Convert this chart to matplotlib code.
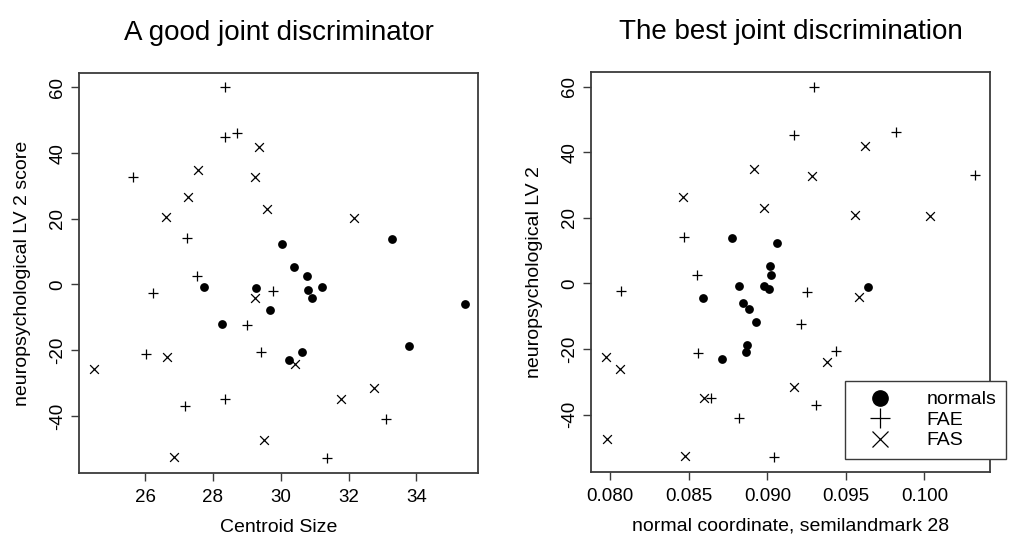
#!/usr/bin/env python3
# -*- coding: utf-8 -*-
import matplotlib
matplotlib.use("Agg")
import matplotlib.pyplot as plt
from matplotlib.lines import Line2D

plt.rcParams['font.family'] = ['Liberation Sans', 'DejaVu Sans']

# LV 2 scores, same subjects in both panels
normals_lv2 = [12.3, 13.9, 5.4, 2.6, -0.7, -1.8, -4.2, -7.7, -20.6, -23.0,
               -0.8, -1.1, -11.9, -18.7, -5.9]
normals_cs = [30.04, 33.28, 30.39, 30.79, 31.23, 30.80, 30.92, 29.67, 30.64, 30.25,
              27.73, 29.27, 28.27, 33.78, 35.43]

fae_lv2 = [60.0, 45.0, 46.0, 32.8, 14.2, 2.7, -1.9, -20.6, -2.7, -12.2,
           -21.2, -37.0, -34.9, -40.9, -52.9]
fae_cs = [28.36, 28.36, 28.70, 25.63, 27.25, 27.53, 29.78, 29.42, 26.22, 29.00,
          26.02, 27.19, 28.37, 33.11, 31.37]

fas_lv2 = [41.8, 34.9, 32.6, 26.5, 20.6, 23.0, 20.3, -24.2, -4.1, -22.2,
           -25.8, -52.4, -34.9, -31.5, -47.2]
fas_cs = [29.37, 27.55, 29.24, 27.26, 26.63, 29.59, 32.17, 30.42, 29.24, 26.66,
          24.50, 26.85, 31.79, 32.75, 29.52]

# right panel: semilandmark 28 normal coordinate
normals_lv2_r = [13.8, 12.3, 5.4, 2.5, -0.8, -0.8, -1.7, -4.3, -5.9, -7.8,
                 -11.8, -18.7, -20.8, -23.1, -1.0]
normals_sl = [0.08773, 0.09060, 0.09019, 0.09026, 0.08820, 0.08979, 0.09011, 0.08592,
              0.08845, 0.08881, 0.08928, 0.08873, 0.08862, 0.08710, 0.09640]

fae_lv2_r = [60.0, 45.2, 46.2, 33.1, 14.2, 2.6, -2.2, -2.5, -12.3, -20.6,
             -21.2, -35.0, -41.0, -52.9, -37.0]
fae_sl = [0.09299, 0.09168, 0.09822, 0.10323, 0.08468, 0.08552, 0.08068, 0.09255,
          0.09213, 0.09438, 0.08559, 0.08639, 0.08822, 0.09043, 0.09310]

fas_lv2_r = [35.0, 26.5, 22.9, 41.9, 32.8, 21.0, 20.6, -4.0, -24.0, -22.3,
             -26.1, -35.0, -47.5, -52.6, -31.6]
fas_sl = [0.08915, 0.08461, 0.08977, 0.09622, 0.09283, 0.09557, 0.10034, 0.09584,
          0.09380, 0.07975, 0.08064, 0.08597, 0.07977, 0.08478, 0.09170]

left_xticks = [26, 28, 30, 32, 34]
right_xticks = [0.080, 0.085, 0.090, 0.095, 0.100]
yticks = [-40, -20, 0, 20, 40, 60]

W, H = 1012, 544


def style_axes(ax, title, xlabel, ylabel, xticks, xfmt):
    for sp in ax.spines.values():
        sp.set_color('#3a3a3a')
        sp.set_linewidth(1.3)
    ax.set_xticks(xticks)
    ax.set_xticklabels([xfmt.format(t) for t in xticks])
    ax.set_yticks(yticks)
    ax.set_yticklabels([str(t) for t in yticks], rotation=90, va='center')
    ax.tick_params(direction='out', length=6, width=1, color='#3a3a3a',
                   labelsize=13.5, pad=6)
    ax.tick_params(axis='y', pad=3)
    ax.set_title(title, fontsize=20, pad=24)
    ax.set_xlabel(xlabel, fontsize=14, labelpad=9)
    ax.set_ylabel(ylabel, fontsize=14, labelpad=13)


def draw_points(ax, xn, yn, xe, ye, xs, ys):
    ax.scatter(xn, yn, s=40, marker='o', color='black', linewidths=0, zorder=3)
    ax.scatter(xe, ye, s=50, marker='+', color='black', linewidths=0.9, zorder=3)
    ax.scatter(xs, ys, s=40, marker='x', color='black', linewidths=0.9, zorder=3)


fig = plt.figure(figsize=(W / 100, H / 100), dpi=100)

ax1 = fig.add_axes([79 / W, 1 - 472.7 / H, (478 - 79) / W, (472.7 - 73.3) / H])
draw_points(ax1, normals_cs, normals_lv2, fae_cs, fae_lv2, fas_cs, fas_lv2)
ax1.set_xlim(24.05, 35.82)
ax1.set_ylim(-57.3, 64.3)
style_axes(ax1, "A good joint discriminator", "Centroid Size",
           "neuropsychological LV 2 score", left_xticks, "{:g}")

ax2 = fig.add_axes([591 / W, 1 - 471.7 / H, (990 - 591) / W, (471.7 - 72.3) / H])
draw_points(ax2, normals_sl, normals_lv2_r, fae_sl, fae_lv2_r, fas_sl, fas_lv2_r)
ax2.set_xlim(0.07877, 0.10418)
ax2.set_ylim(-57.4, 64.4)
style_axes(ax2, "The best joint discrimination", "normal coordinate, semilandmark 28",
           "neuropsychological LV 2", right_xticks, "{:.3f}")

handles = [Line2D([], [], linestyle='none', marker='o', markersize=11, color='black'),
           Line2D([], [], linestyle='none', marker='+', markersize=14,
                  markeredgewidth=0.9, color='black'),
           Line2D([], [], linestyle='none', marker='x', markersize=12,
                  markeredgewidth=0.9, color='black')]
leg = fig.legend(handles, ["normals", "FAE", "FAS"], loc='upper left',
                 bbox_to_anchor=(845 / W, 1 - 381 / H), borderaxespad=0,
                 fontsize=14, fancybox=False, framealpha=1, handletextpad=1.1,
                 labelspacing=0.15, borderpad=0.5, handlelength=2.6)
leg.get_frame().set_edgecolor('#3a3a3a')
leg.get_frame().set_linewidth(1.0)

plt.savefig("out.png", dpi=100)
